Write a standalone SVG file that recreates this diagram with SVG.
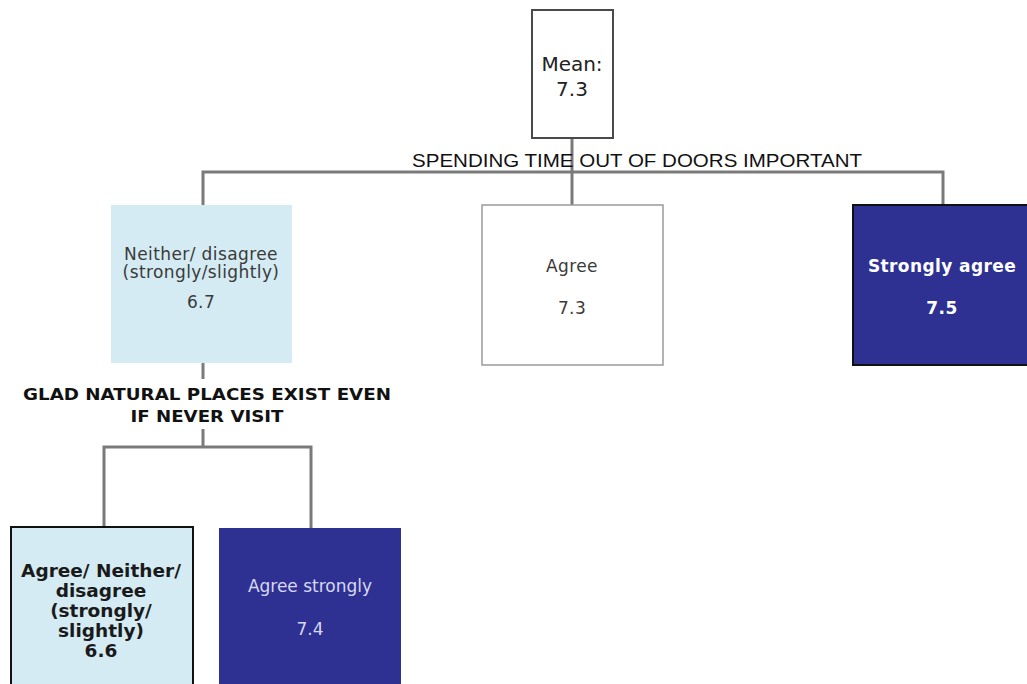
<svg xmlns="http://www.w3.org/2000/svg" width="1027" height="684" viewBox="0 0 1027 684">
  <style>
    .conn { stroke: #7a7a7a; stroke-width: 3; fill: none; }
    .box-root { fill: #ffffff; stroke: #4a4a4a; stroke-width: 2; }
    .box-light { fill: #d4ebf3; }
    .box-light-b { fill: #d4ebf3; stroke: #111111; stroke-width: 2; }
    .box-white { fill: #ffffff; stroke: #9a9a9a; stroke-width: 1.5; }
    .box-dark { fill: #2e3192; }
    .box-dark-b { fill: #2e3192; stroke: #111111; stroke-width: 2; }
    .t { font-family: "DejaVu Sans", Verdana, sans-serif; text-anchor: middle; }
    .t-reg { font-size: 17px; fill: #3a3a3a; letter-spacing: 0.4px; }
    .t-bold { font-size: 18.5px; font-weight: bold; fill: #1a1a1a; }
    .t-white { font-size: 17px; font-weight: bold; fill: #ffffff; letter-spacing: 0.4px; }
    .t-lav { font-size: 17px; fill: #d8d8f2; }
    .split { font-family: "Liberation Sans", Arial, sans-serif; font-size: 18px; fill: #111111; }
    .split2 { font-family: "DejaVu Sans", Verdana, sans-serif; font-size: 15px; font-weight: bold; fill: #111111; text-anchor: middle; }
  </style>

  <!-- connectors -->
  <g id="connectors">
    <line class="conn" x1="572" y1="138" x2="572" y2="172"/>
    <polyline class="conn" points="203,205 203,172 943,172 943,205"/>
    <line class="conn" x1="572" y1="172" x2="572" y2="205"/>
    <line class="conn" x1="203" y1="363" x2="203" y2="379"/>
    <line class="conn" x1="203" y1="429" x2="203" y2="447"/>
    <polyline class="conn" points="104,527 104,447 311,447 311,528"/>
  </g>

  <!-- split labels -->
  <g id="split-outdoors">
    <text class="split" x="412" y="167" textLength="450" lengthAdjust="spacingAndGlyphs">SPENDING TIME OUT OF DOORS IMPORTANT</text>
  </g>
  <g id="split-natural">
    <text class="split2" x="207" y="400" textLength="368" lengthAdjust="spacingAndGlyphs">GLAD NATURAL PLACES EXIST EVEN</text>
    <text class="split2" x="207" y="422" textLength="153" lengthAdjust="spacingAndGlyphs">IF NEVER VISIT</text>
  </g>

  <!-- root -->
  <g id="node-root">
    <rect class="box-root" x="532" y="10" width="81" height="128"/>
    <text class="t" x="572" y="71" font-size="20" fill="#222">Mean:</text>
    <text class="t" x="572" y="96" font-size="20" fill="#222">7.3</text>
  </g>

  <!-- first level -->
  <g id="node-neither">
    <rect class="box-light" x="111" y="205" width="181" height="158"/>
    <text class="t t-reg" x="201" y="260">Neither/ disagree</text>
    <text class="t t-reg" x="201" y="278">(strongly/slightly)</text>
    <text class="t t-reg" x="201" y="308">6.7</text>
  </g>

  <g id="node-agree">
    <rect class="box-white" x="482" y="205" width="181" height="160"/>
    <text class="t t-reg" x="572" y="272">Agree</text>
    <text class="t t-reg" x="572" y="314">7.3</text>
  </g>

  <g id="node-strongly-agree">
    <rect class="box-dark-b" x="853" y="205" width="180" height="160"/>
    <text class="t t-white" x="942" y="272">Strongly agree</text>
    <text class="t t-white" x="942" y="314">7.5</text>
  </g>

  <!-- second level -->
  <g id="node-agree-neither">
    <rect class="box-light-b" x="11" y="527" width="182" height="170"/>
    <text class="t t-bold" x="101" y="577">Agree/ Neither/</text>
    <text class="t t-bold" x="101" y="597">disagree</text>
    <text class="t t-bold" x="101" y="617">(strongly/</text>
    <text class="t t-bold" x="101" y="637">slightly)</text>
    <text class="t t-bold" x="101" y="657">6.6</text>
  </g>

  <g id="node-agree-strongly">
    <rect class="box-dark" x="219" y="528" width="182" height="170"/>
    <text class="t t-lav" x="310" y="592">Agree strongly</text>
    <text class="t t-lav" x="310" y="635">7.4</text>
  </g>
</svg>
